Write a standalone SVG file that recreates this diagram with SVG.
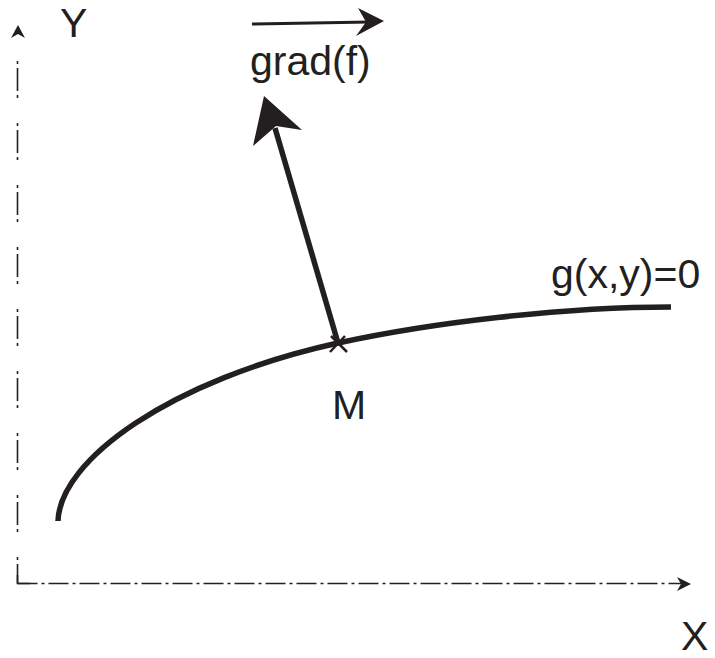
<svg xmlns="http://www.w3.org/2000/svg" width="715" height="658" viewBox="0 0 715 658">
<style>
.lbl{font-family:"Liberation Sans",Arial,sans-serif;font-size:41px;fill:#231f20}
.axis{fill:none;stroke:#231f20;stroke-width:1.6}
.head{fill:#231f20;stroke:none}
.thick{fill:none;stroke:#231f20;stroke-width:5.5}
</style>
<rect width="715" height="658" fill="#fff"/>
<g id="axes">
<path class="axis" d="M17.5,61 V583.5" stroke-dasharray="3 4 23 4 3 25"/>
<path class="axis" d="M17.5,583.5 H682" stroke-dasharray="20 4 3 4"/>
<path class="axis" d="M17.5,575 V583.5 H30"/>
<polygon class="head" points="18,25 25,38 18,34 11,38"/>
<polygon class="head" points="691,584 677,577 681,584 677,591"/>
</g>
<g id="curve">
<path class="thick" d="M58,521 C60,460 170,380 338,343 C430,323 560,307 671,307"/>
</g>
<g id="point-M">
<path fill="none" stroke="#231f20" stroke-width="2.5" d="M331,336 L347,352 M345,336 L330,352"/>
<text class="lbl" x="332" y="419">M</text>
</g>
<g id="connectors">
<path class="thick" d="M338,343 L275,128"/>
<polygon class="head" points="264,96 302,130 276,126 253,146"/>
<path fill="none" stroke="#231f20" stroke-width="3" d="M252,24 L370,22"/>
<polygon class="head" points="384,21 358,8 366,22 356,36"/>
</g>
<g id="labels">
<text class="lbl" x="60" y="37">Y</text>
<text class="lbl" x="250" y="75">grad(f)</text>
<text class="lbl" x="551" y="288">g(x,y)=0</text>
<text class="lbl" x="681" y="650">X</text>
</g>
</svg>
